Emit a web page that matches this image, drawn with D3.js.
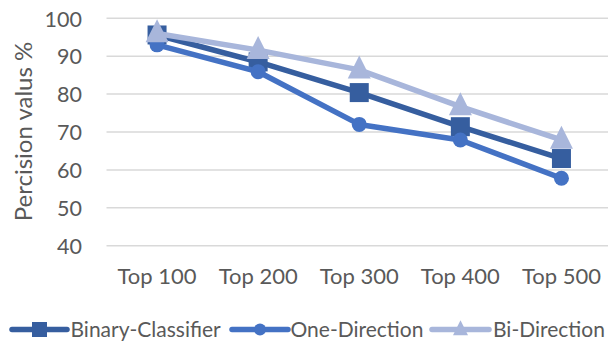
<!DOCTYPE html>
<html>
<head>
<meta charset="utf-8">
<script src="https://cdn.jsdelivr.net/npm/d3@7"></script>
<style>
  html, body { margin: 0; padding: 0; background: #fff; }
  svg { display: block; }
  text { font-family: Lato, "Open Sans", sans-serif; fill: #595959; }
</style>
</head>
<body>
<svg id="chart" width="608" height="343"></svg>
<script>
// Precision at top-k cut-offs for three approaches
const categories = ["Top 100", "Top 200", "Top 300", "Top 400", "Top 500"];
const binaryClassifier = [95.6, 88.5, 80.4, 71.4, 63.0];
const oneDirection = [93.0, 85.9, 72.0, 67.9, 57.8];
const biDirection = [96.0, 91.6, 86.4, 76.7, 67.9];
const yTicks = [40, 50, 60, 70, 80, 90, 100];

const series = [
  { name: "Binary-Classifier", values: binaryClassifier, color: "#365E9F", shape: "square" },
  { name: "One-Direction", values: oneDirection, color: "#4472C4", shape: "circle" },
  { name: "Bi-Direction", values: biDirection, color: "#A8B6DB", shape: "triangle" }
];

const svg = d3.select("#chart");
const plot = { left: 106.5, right: 612, top: 18.3, bottom: 245.7 };

const x = d3.scaleBand().domain(categories).range([plot.left, plot.right]);
const y = d3.scaleLinear().domain([40, 100]).range([plot.bottom, plot.top]);

// Horizontal gridlines
svg.append("g")
  .selectAll("line")
  .data(yTicks)
  .join("line")
  .attr("x1", plot.left).attr("x2", plot.right)
  .attr("y1", d => y(d)).attr("y2", d => y(d))
  .attr("stroke", "#D9D9D9").attr("stroke-width", 1.5);

// Y axis tick labels
const yAxis = d3.axisLeft(y).tickValues(yTicks).tickSize(0).tickPadding(0);
const gy = svg.append("g").attr("transform", "translate(82,0)").call(yAxis);
gy.select(".domain").remove();
gy.selectAll("text")
  .attr("fill", "#595959")
  .style("font-family", "Lato, sans-serif")
  .style("font-size", "21.5px")
  .attr("dy", "0.36em");

// X axis category labels
const xAxis = d3.axisBottom(x).tickSize(0).tickPadding(0);
const gx = svg.append("g").attr("transform", "translate(0,284)").call(xAxis);
gx.select(".domain").remove();
gx.selectAll("text")
  .attr("fill", "#595959")
  .attr("dy", 0)
  .style("font-family", "Lato, sans-serif")
  .style("font-size", "22px");

// Y axis title
svg.append("text")
  .attr("transform", "translate(32,131.5) rotate(-90)")
  .attr("text-anchor", "middle")
  .style("font-size", "24px")
  .text("Percision valus %");

const cx = d => x(d) + x.bandwidth() / 2;

function marker(sel, shape, size, color) {
  if (shape === "square") {
    sel.append("rect")
      .attr("x", -size / 2).attr("y", -size / 2)
      .attr("width", size).attr("height", size)
      .attr("fill", color);
  } else if (shape === "circle") {
    sel.append("circle").attr("r", size / 2).attr("fill", color);
  } else {
    const h = size;
    sel.append("path")
      .attr("d", `M0,${-h * 0.62} L${size / 2},${h * 0.38} L${-size / 2},${h * 0.38} Z`)
      .attr("fill", color);
  }
}

const markerSize = { square: 19, circle: 15, triangle: 23 };
const line = d3.line().x((d, i) => cx(categories[i])).y(d => y(d));

series.forEach(s => {
  const g = svg.append("g");
  g.append("path")
    .attr("d", line(s.values))
    .attr("fill", "none")
    .attr("stroke", s.color)
    .attr("stroke-width", 5.5)
    .attr("stroke-linejoin", "round");
  s.values.forEach((v, i) => {
    const m = g.append("g").attr("transform", `translate(${cx(categories[i])},${y(v)})`);
    marker(m, s.shape, markerSize[s.shape], s.color);
  });
});

// Legend
const legendY = 329.5;
const legendItems = [
  { x0: 12, x1: 67, tx: 70.5 },
  { x0: 232, x1: 288, tx: 290.5 },
  { x0: 432, x1: 489, tx: 493 }
];
const legendMarker = { square: 15, circle: 12, triangle: 15 };
series.forEach((s, i) => {
  const p = legendItems[i];
  const g = svg.append("g");
  g.append("line")
    .attr("x1", p.x0).attr("x2", p.x1)
    .attr("y1", legendY).attr("y2", legendY)
    .attr("stroke", s.color).attr("stroke-width", 5.5)
    .attr("stroke-linecap", "round");
  const m = g.append("g").attr("transform", `translate(${(p.x0 + p.x1) / 2},${legendY})`);
  marker(m, s.shape, legendMarker[s.shape], s.color);
  g.append("text")
    .attr("x", p.tx).attr("y", legendY)
    .attr("dy", "0.36em")
    .style("font-size", "21px")
    .text(s.name);
});
</script>
</body>
</html>
